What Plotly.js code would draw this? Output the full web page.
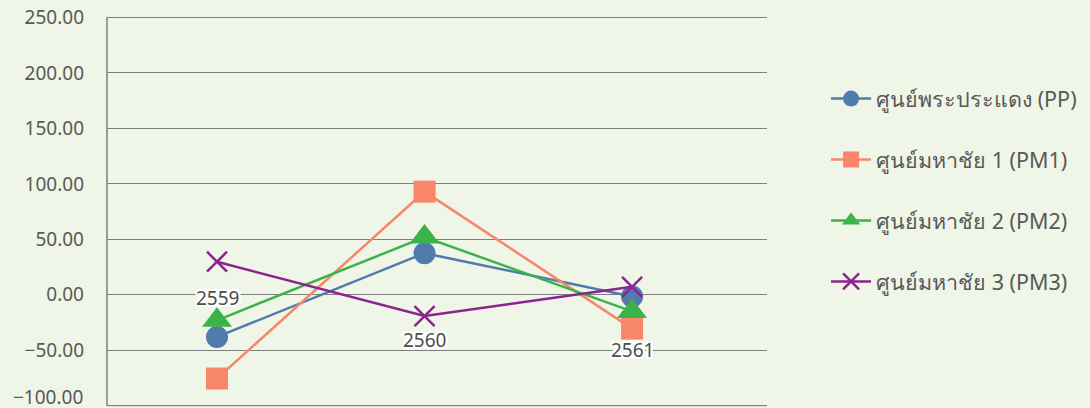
<!DOCTYPE html>
<html>
<head>
<meta charset="utf-8">
<script src="https://cdn.plot.ly/plotly-3.0.1.min.js"></script>
<style>
html,body{margin:0;padding:0;background:#eff5e7;}
#chart{width:1090px;height:408px;}
</style>
</head>
<body>
<div id="chart"></div>
<script>
const categories = ['2559', '2560', '2561'];
const seriesNames = ['ศูนย์พระประแดง (PP)', 'ศูนย์มหาชัย 1 (PM1)', 'ศูนย์มหาชัย 2 (PM2)', 'ศูนย์มหาชัย 3 (PM3)'];
const ppValues  = [-38.0, 37.5, -1.5];
const pm1Values = [-75.5, 93.0, -30.5];
const pm2Values = [-23.0, 52.0, -15.0];
const pm3Values = [29.8, -19.2, 7.2];
const yTicks = [-100, -50, 0, 50, 100, 150, 200, 250];

const colors = ['#4f7bad', '#f7866a', '#3bb34a', '#8c2390'];
const symbols = ['circle', 'square', 'triangle-up', 'x-thin'];
const sizes = [22, 22, 26, 20];
const allValues = [ppValues, pm1Values, pm2Values, pm3Values];

const fontFam = '"Noto Sans", "Open Sans", sans-serif';

const traces = allValues.map((vals, i) => ({
  type: 'scatter',
  mode: 'lines+markers',
  x: categories,
  y: vals,
  name: seriesNames[i],
  legendgroup: 'g' + i,
  line: {color: colors[i], width: 2.5},
  marker: {
    symbol: symbols[i],
    size: sizes[i],
    color: colors[i],
    line: {color: colors[i], width: symbols[i] === 'x-thin' ? 2.5 : 0}
  },
  hoverinfo: 'x+y+name'
}));

const halo = '2px 0 0 #fff, -2px 0 0 #fff, 0 2px 0 #fff, 0 -2px 0 #fff, 1px 1px 0 #fff, -1px -1px 0 #fff, 1px -1px 0 #fff, -1px 1px 0 #fff, 2px 2px 1px #fff, -2px -2px 1px #fff, 2px -2px 1px #fff, -2px 2px 1px #fff';
const labelY = [-2.5, -41, -50];
const annotations = categories.map((c, i) => ({
  x: i, y: labelY[i], xref: 'x', yref: 'y',
  text: c, showarrow: false,
  font: {family: fontFam, size: 19, color: '#4d4d4d', shadow: halo}
}));
// bottom tick label (Plotly drops it because it overflows the page edge)
annotations.push({
  x: 0, xref: 'paper', xanchor: 'right', xshift: -22,
  y: yTicks[0], yref: 'y', yanchor: 'middle', yshift: 9,
  text: yTicks[0].toFixed(2).replace('-', '\u2212'), showarrow: false,
  font: {family: fontFam, size: 19, color: '#595959'}
});

const gridShapes = [yTicks[0], yTicks[yTicks.length - 1]].map(v => ({
  type: 'line', xref: 'paper', yref: 'y', x0: 0, x1: 1, y0: v, y1: v,
  line: {color: '#7f7f7f', width: 1}, layer: 'below'
}));
gridShapes.push({
  type: 'line', xref: 'paper', yref: 'y', x0: 0, x1: 0,
  y0: yTicks[0], y1: yTicks[yTicks.length - 1],
  line: {color: '#7f7f7f', width: 1.5}, layer: 'below'
});

const layout = {
  width: 1090, height: 408,
  paper_bgcolor: '#eff5e7',
  plot_bgcolor: '#eff5e7',
  margin: {l: 107, r: 323, t: 14, b: 0},
  showlegend: true,
  legend: {
    x: 1.0895, xanchor: 'left', y: 0.8374, yanchor: 'top',
    bgcolor: 'rgba(0,0,0,0)',
    font: {family: fontFam, size: 21.5, color: '#595959'},
    tracegroupgap: 30,
    itemwidth: 40
  },
  xaxis: {
    type: 'category',
    range: [-0.53, 2.65],
    showgrid: false,
    zeroline: false,
    showline: false,
    showticklabels: false,
    ticks: ''
  },
  yaxis: {
    range: [-102.07, 253.15],
    tickvals: yTicks,
    tickformat: '.2f',
    showgrid: true,
    gridcolor: '#7f7f7f',
    gridwidth: 1,
    zeroline: false,
    showline: false,
    ticks: '',
    ticklabelstandoff: 22,
    tickfont: {family: fontFam, size: 19, color: '#595959'}
  },
  shapes: gridShapes,
  annotations: annotations
};

Plotly.newPlot('chart', traces, layout, {displayModeBar: false, staticPlot: true});
</script>
</body>
</html>
